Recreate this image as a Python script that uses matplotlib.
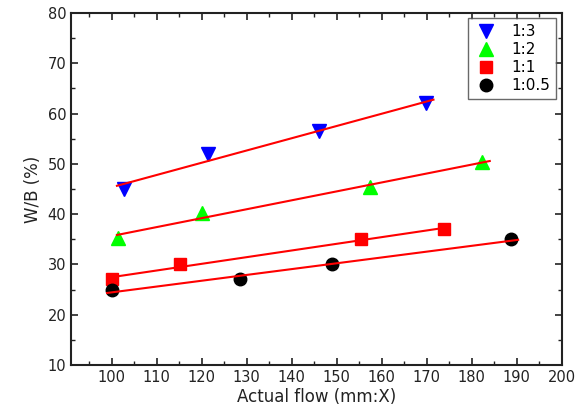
import numpy as np
import matplotlib
matplotlib.use("Agg")
import matplotlib.pyplot as plt
from matplotlib.ticker import MultipleLocator

plt.rcParams['font.family'] = ['DejaVu Sans']

# Measured W/B ratio against actual flow for each mix proportion
labels = ["1:3", "1:2", "1:1", "1:0.5"]
flow_13 = [102.7, 121.5, 146.1, 169.8]
wb_13 = [45.0, 52.0, 56.5, 62.0]
flow_12 = [101.4, 120.2, 157.4, 182.3]
wb_12 = [35.3, 40.2, 45.3, 50.4]
flow_11 = [100.2, 115.1, 155.4, 173.8]
wb_11 = [27.0, 30.0, 35.0, 37.0]
flow_105 = [100.2, 128.6, 148.9, 188.8]
wb_105 = [25.0, 27.0, 30.0, 35.0]

# x-extent of each linear fit line
fit_start = [101.2, 101.2, 99.6, 99.0]
fit_end = [171.5, 184.0, 175.1, 190.3]

series = [
    (flow_13, wb_13, "v", "#0000ff", 10),
    (flow_12, wb_12, "^", "#00ff00", 10),
    (flow_11, wb_11, "s", "#ff0000", 8),
    (flow_105, wb_105, "o", "#000000", 9),
]

fig = plt.figure(figsize=(5.84, 4.19), dpi=100)
ax = fig.add_axes([0.1216, 0.129, 0.8404, 0.840])

for i, (x, y, m, c, ms) in enumerate(series):
    ax.plot(x, y, linestyle="none", marker=m, color=c, markersize=ms,
            label=labels[i], zorder=3)
    k, b = np.polyfit(x, y, 1)
    xs = np.array([fit_start[i], fit_end[i]])
    ax.plot(xs, k * xs + b, color="#ff0000", linewidth=1.5, zorder=4)

ax.set_xlim(91, 200)
ax.set_ylim(10, 80)
ax.set_xticks(np.arange(100, 201, 10))
ax.set_yticks(np.arange(10, 81, 10))
ax.xaxis.set_minor_locator(MultipleLocator(5))
ax.yaxis.set_minor_locator(MultipleLocator(5))
ax.tick_params(which="both", direction="in", top=True, right=True,
               labelsize=10.5, colors="#222222")
ax.tick_params(which="major", length=5, width=1.2)
ax.tick_params(which="minor", length=3, width=1.0)
for s in ax.spines.values():
    s.set_linewidth(1.5)
    s.set_color("#222222")

ax.set_xlabel("Actual flow (mm:X)", fontsize=12, color="#222222", labelpad=2)
ax.set_ylabel("W/B (%)", fontsize=12, color="#222222", labelpad=4)

leg = ax.legend(loc="upper right", fontsize=11, frameon=True, fancybox=False,
                borderpad=0.4, handletextpad=0.8, labelspacing=0.2,
                handlelength=1.6, borderaxespad=0.0,
                bbox_to_anchor=(0.988, 0.986))
leg.get_frame().set_edgecolor("#444444")
leg.get_frame().set_linewidth(1.0)

fig.savefig("out.png", dpi=100)
